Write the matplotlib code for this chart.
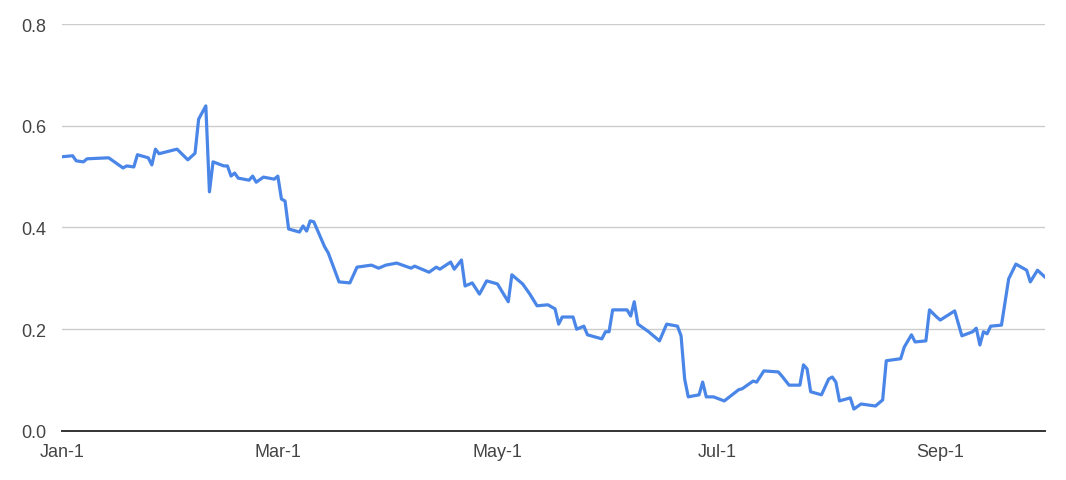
import matplotlib
matplotlib.use("Agg")
from matplotlib import pyplot as plt
import pandas as pd

# days since Jan-1
days = [0, 3, 4, 6, 7, 13, 17, 18, 20, 21, 24, 25, 26, 27, 32, 35, 37, 38, 40, 41,
        42, 45, 46, 47, 48, 49, 52, 53, 54, 56, 59, 60, 61, 62, 63, 66, 67, 68, 69, 70,
        73, 74, 77, 80, 82, 86, 88, 90, 93, 97, 98, 102, 104, 105, 108, 109, 111, 112,
        114, 116, 118, 121, 124, 125, 128, 130, 132, 135, 137, 138, 139, 142, 143, 145,
        146, 150, 151, 152, 153, 157, 158, 159, 160, 163, 166, 168, 171, 172, 173, 174,
        177, 178, 179, 181, 184, 188, 189, 192, 193, 195, 199, 200, 202, 205, 206, 207,
        208, 211, 213, 214, 215, 216, 219, 220, 222, 226, 228, 229, 233, 234, 236, 237,
        240, 241, 243, 244, 248, 250, 253, 254, 255, 256, 257, 258, 261, 263, 265, 268,
        269, 271, 273]
values = [0.539, 0.541, 0.531, 0.529, 0.535, 0.537, 0.517, 0.521, 0.519, 0.543, 0.537,
          0.523, 0.554, 0.545, 0.554, 0.533, 0.546, 0.613, 0.639, 0.470, 0.529, 0.521,
          0.521, 0.501, 0.507, 0.497, 0.493, 0.501, 0.489, 0.499, 0.495, 0.501, 0.456,
          0.452, 0.397, 0.391, 0.403, 0.393, 0.413, 0.411, 0.362, 0.350, 0.293, 0.291,
          0.322, 0.326, 0.320, 0.326, 0.330, 0.320, 0.324, 0.312, 0.322, 0.318, 0.332,
          0.318, 0.336, 0.285, 0.291, 0.269, 0.295, 0.289, 0.254, 0.307, 0.289, 0.269,
          0.246, 0.248, 0.240, 0.210, 0.224, 0.224, 0.200, 0.206, 0.189, 0.181, 0.195,
          0.195, 0.238, 0.238, 0.226, 0.254, 0.210, 0.195, 0.177, 0.210, 0.206, 0.187,
          0.102, 0.067, 0.071, 0.096, 0.067, 0.067, 0.059, 0.081, 0.083, 0.098, 0.096,
          0.118, 0.116, 0.108, 0.090, 0.090, 0.130, 0.122, 0.077, 0.071, 0.102, 0.106,
          0.096, 0.059, 0.065, 0.043, 0.053, 0.049, 0.061, 0.138, 0.142, 0.165, 0.189,
          0.175, 0.177, 0.238, 0.224, 0.218, 0.236, 0.187, 0.195, 0.202, 0.169, 0.195,
          0.191, 0.206, 0.208, 0.299, 0.328, 0.316, 0.293, 0.316, 0.303]
x_ticks = ["2020-01-01", "2020-03-01", "2020-05-01", "2020-07-01", "2020-09-01"]
x_labels = ["Jan-1", "Mar-1", "May-1", "Jul-1", "Sep-1"]
y_ticks = [0.0, 0.2, 0.4, 0.6, 0.8]

dates = pd.Timestamp("2020-01-01") + pd.to_timedelta(days, unit="D")

plt.rcParams["font.family"] = ["Liberation Sans", "DejaVu Sans"]

fig = plt.figure(figsize=(10.66, 4.81), dpi=100)
ax = fig.add_axes([0.058, 0.102, 0.922, 0.846])

ax.plot(dates, values, color="#4a86e8", linewidth=2.3, solid_joinstyle="round")

ax.set_xlim(pd.Timestamp("2020-01-01"), pd.Timestamp("2020-09-30"))
ax.set_ylim(0, 0.8)
ax.set_yticks(y_ticks)
ax.set_yticklabels([f"{v:.1f}" for v in y_ticks])
ax.set_xticks(pd.to_datetime(x_ticks))
ax.set_xticklabels(x_labels)

ax.grid(axis="y", color="#cccccc", linewidth=1)
ax.set_axisbelow(True)
for side in ["top", "right", "left"]:
    ax.spines[side].set_visible(False)
ax.spines["bottom"].set_color("#333333")
ax.spines["bottom"].set_linewidth(1.4)
ax.tick_params(length=0, labelsize=13, labelcolor="#444444")
ax.tick_params(axis="y", pad=11)
ax.tick_params(axis="x", pad=9)

fig.savefig("out.png", dpi=100)
